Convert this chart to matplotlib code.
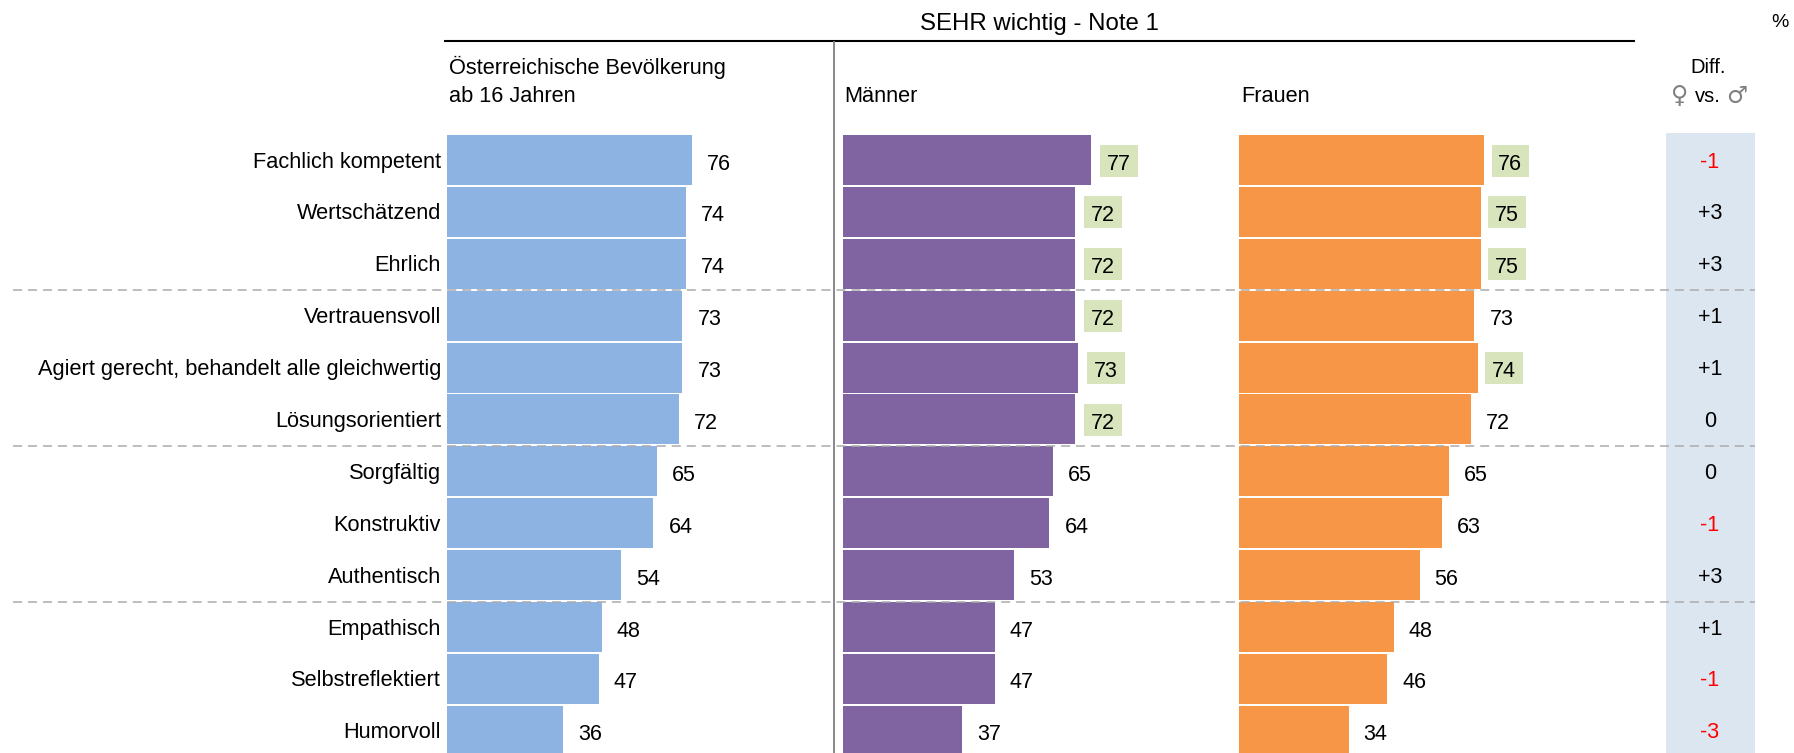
import matplotlib
matplotlib.use("Agg")
import matplotlib.pyplot as plt
from matplotlib.patches import Rectangle

W, H = 1794, 753
plt.rcParams['font.family'] = ['Liberation Sans', 'DejaVu Sans']

categories = ["Fachlich kompetent", "Wertschätzend", "Ehrlich", "Vertrauensvoll",
              "Agiert gerecht, behandelt alle gleichwertig", "Lösungsorientiert",
              "Sorgfältig", "Konstruktiv", "Authentisch", "Empathisch",
              "Selbstreflektiert", "Humorvoll"]
total = [76, 74, 74, 73, 73, 72, 65, 64, 54, 48, 47, 36]
men = [77, 72, 72, 72, 73, 72, 65, 64, 53, 47, 47, 37]
women = [76, 75, 75, 73, 74, 72, 65, 63, 56, 48, 46, 34]
diff = ["-1", "+3", "+3", "+1", "+1", "0", "0", "-1", "+3", "+1", "-1", "-3"]
men_marked = [True, True, True, True, True, True, False, False, False, False, False, False]
women_marked = [True, True, True, False, True, False, False, False, False, False, False, False]
no_marked = [False] * 12
group_breaks = [2.5, 5.5, 8.5]

BLUE, PURPLE, ORANGE = "#8DB3E2", "#8064A2", "#F79646"
GREEN, DIFFBG = "#D8E4BC", "#DCE6F1"
FS = 15.7
FSN = 15.5
PXU = 3.225  # pixels per percent
PITCH = 51.9
TOP = 135    # top of first bar in px
BH = 50

fig = plt.figure(figsize=(W / 100, H / 100), dpi=100, facecolor="white")

# full-figure pixel overlay for header text and rules
ov = fig.add_axes([0, 0, 1, 1], zorder=5)
ov.set_xlim(0, W); ov.set_ylim(H, 0); ov.axis("off")


def panel(x0, x1, vals, color, marked, offs=27, box_off=9):
    ax = fig.add_axes([x0 / W, 0, (x1 - x0) / W, (H - TOP) / H], zorder=2)
    ax.set_xlim(0, (x1 - x0) / PXU)
    ytop = -BH / PITCH / 2
    ax.set_ylim(ytop + (H - TOP) / PITCH, ytop)
    ax.axis("off")
    ax.barh(range(len(vals)), vals, height=BH / PITCH, color=color, linewidth=0)
    for i, (v, m) in enumerate(zip(vals, marked)):
        xt = v + offs / PXU
        yt = i + 4 / PITCH
        if m:
            ax.add_patch(Rectangle((v + box_off / PXU, i - 15.5 / PITCH), 37.5 / PXU, 32 / PITCH,
                                   facecolor=GREEN, linewidth=0, zorder=1))
            xt = v + (box_off + 18.5) / PXU
        ax.text(xt, yt, str(v), ha="center", va="center", fontsize=FSN, color="black", zorder=3)
    return ax


a1 = panel(447, 830, total, BLUE, no_marked)
a2 = panel(843, 1230, men, PURPLE, men_marked)
a3 = panel(1239, 1660, women, ORANGE, women_marked, box_off=7.5)


def row_y(i):
    return TOP + BH / 2 + i * PITCH


# diff column background
ov_bg = fig.add_axes([0, 0, 1, 1], zorder=1)
ov_bg.set_xlim(0, W); ov_bg.set_ylim(H, 0); ov_bg.axis("off")
ov_bg.add_patch(Rectangle((1666, 133), 89, H - 133, facecolor=DIFFBG, linewidth=0))

for i, (c, d) in enumerate(zip(categories, diff)):
    ov.text(441, row_y(i) + 2, c, ha="right", va="center", fontsize=FS, color="black")
    ov.text(1710, row_y(i) + 2, d, ha="center", va="center", fontsize=FSN,
            color="#FF0000" if d.startswith("-") else "black")

# rules
ov.plot([444, 1635], [41, 41], color="black", lw=1.5, solid_capstyle="butt")
ov.plot([834, 834], [41, H], color="#7F7F7F", lw=1.3, solid_capstyle="butt")
for b in group_breaks:
    y = row_y(b) + 0.7
    ov.plot([13, 1755], [y, y], color="#ABABAB", lw=1.1, dashes=(5.9, 3.9))

# header text
ov.text(1039, 24, "SEHR wichtig - Note 1", ha="center", va="center", fontsize=17.3)
ov.text(1780, 22, "%", ha="center", va="center", fontsize=14)
ov.text(449, 67, "Österreichische Bevölkerung", ha="left", va="center", fontsize=FS)
ov.text(449, 96, "ab 16 Jahren", ha="left", va="center", fontsize=FS)
ov.text(844, 96, "Männer", ha="left", va="center", fontsize=FS)
ov.text(1241, 96, "Frauen", ha="left", va="center", fontsize=FS)
ov.text(1708, 67, "Diff.", ha="center", va="center", fontsize=14.5)
ov.text(1708, 96, "vs.", ha="center", va="center", fontsize=14.5)
ov.text(1680, 96, "♀", ha="center", va="center", fontsize=17, color="#808080",
        family="DejaVu Sans")
ov.text(1737, 96, "♂", ha="center", va="center", fontsize=17, color="#808080",
        family="DejaVu Sans")

fig.savefig("out.png", dpi=100, facecolor="white")
